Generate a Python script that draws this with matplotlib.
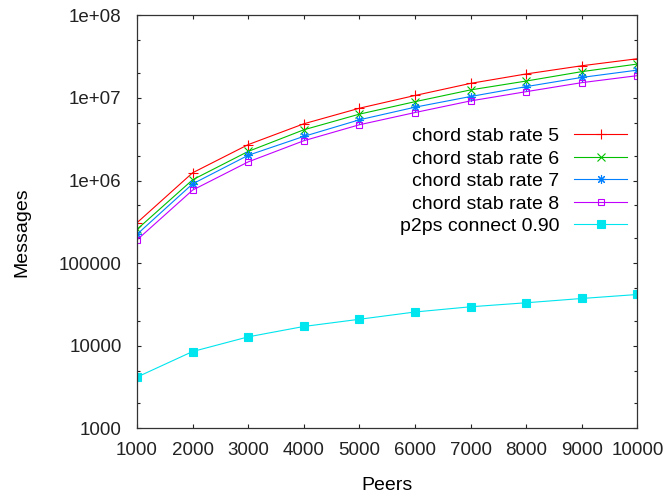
import matplotlib
matplotlib.use('Agg')
import matplotlib.pyplot as plt
from matplotlib.ticker import FixedLocator, FixedFormatter

plt.rcParams['font.family'] = ['Liberation Sans', 'DejaVu Sans']

peers = [1000, 2000, 3000, 4000, 5000, 6000, 7000, 8000, 9000, 10000]

chord5 = [3.08e5, 1.24e6, 2.72e6, 4.86e6, 7.5e6, 1.07e7, 1.50e7, 1.95e7, 2.45e7, 2.98e7]
chord6 = [2.56e5, 1.02e6, 2.25e6, 4.11e6, 6.36e6, 9.0e6, 1.25e7, 1.60e7, 2.08e7, 2.57e7]
chord7 = [2.23e5, 9.1e5, 2.02e6, 3.42e6, 5.43e6, 7.72e6, 1.04e7, 1.37e7, 1.77e7, 2.17e7]
chord8 = [1.91e5, 7.65e5, 1.68e6, 3.03e6, 4.73e6, 6.65e6, 9.2e6, 1.19e7, 1.53e7, 1.86e7]
p2ps = [4.17e3, 8.5e3, 1.28e4, 1.71e4, 2.09e4, 2.56e4, 2.96e4, 3.31e4, 3.73e4, 4.17e4]

labels = ['chord stab rate 5', 'chord stab rate 6', 'chord stab rate 7',
          'chord stab rate 8', 'p2ps connect 0.90']

ytick_vals = [1e3, 1e4, 1e5, 1e6, 1e7, 1e8]
ytick_labels = ['1000', '10000', '100000', '1e+06', '1e+07', '1e+08']

fig = plt.figure(figsize=(6.66, 4.97), dpi=100)
ax = fig.add_axes([0.2057, 0.1382, 0.7513, 0.831])

lw = 0.8
ax.plot(peers, chord5, color='#ff0000', lw=lw, marker='+', ms=7, mew=0.8, label=labels[0])
ax.plot(peers, chord6, color='#00c000', lw=lw, marker='x', ms=5.5, mew=0.8, label=labels[1])
ax.plot(peers, chord7, color='#0080ff', lw=lw, marker=(8, 2, 0), ms=6.5, mew=0.8, label=labels[2])
ax.plot(peers, chord8, color='#c000ff', lw=lw, marker='s', ms=5, mew=0.8, mfc='none', label=labels[3])
ax.plot(peers, p2ps, color='#00e5ee', lw=lw, marker='s', ms=5.5, mew=0.8, label=labels[4])

ax.set_yscale('log')
ax.set_xlim(1000, 10000)
ax.set_ylim(1e3, 1e8)
ax.set_xticks(peers)
ax.set_xticklabels([str(p) for p in peers])
ax.yaxis.set_major_locator(FixedLocator(ytick_vals))
ax.yaxis.set_major_formatter(FixedFormatter(ytick_labels))
minors = [m * 10 ** e for e in range(3, 8) for m in (2, 5)]
ax.yaxis.set_minor_locator(FixedLocator(minors))
ax.yaxis.set_minor_formatter(FixedFormatter([''] * len(minors)))

ax.tick_params(which='both', direction='in', top=True, right=True, labelsize=13.5, colors='#222222')
ax.tick_params(which='major', length=3.2, width=0.8)
ax.tick_params(which='minor', length=2.2, width=0.8)
ax.tick_params(axis='x', pad=9.5)
ax.tick_params(axis='y', pad=11)
for s in ax.spines.values():
    s.set_color('#333333')
    s.set_linewidth(0.9)

ax.set_xlabel('Peers', fontsize=14, labelpad=13.5)
ax.set_ylabel('Messages', fontsize=14)
ax.yaxis.set_label_coords(-0.214, 0.475)

leg = ax.legend(loc='upper right', bbox_to_anchor=(0.98, 0.728), markerfirst=False,
                frameon=False, fontsize=14, handlelength=2.75, handletextpad=0.75,
                labelspacing=0.25, borderpad=0, borderaxespad=0)

fig.savefig('out.png', dpi=100)
